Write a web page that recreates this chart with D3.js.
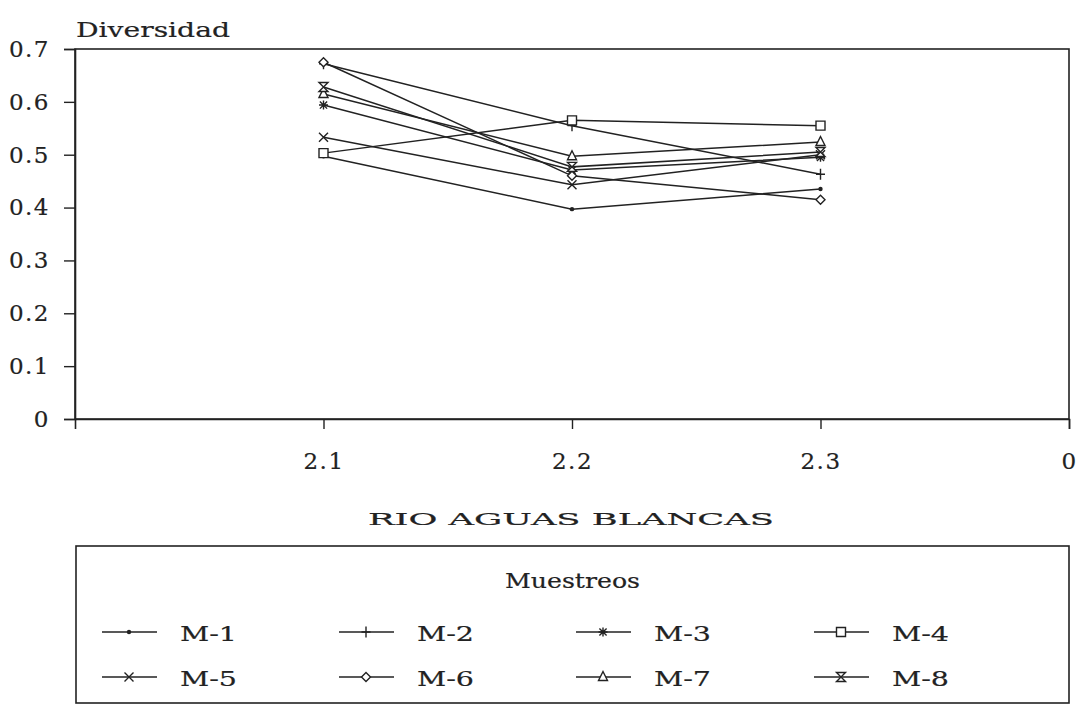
<!DOCTYPE html>
<html>
<head>
<meta charset="utf-8">
<script src="https://cdn.jsdelivr.net/npm/d3@7"></script>
<style>
  body { margin: 0; background: #fff; }
  svg text { font-family: "DejaVu Serif", "Liberation Serif", serif; fill: #222; stroke: #222; stroke-width: 0.2px; }
</style>
</head>
<body>
<svg id="chart" width="1079" height="720"></svg>
<script>
// Diversity per sampling, Rio Aguas Blancas stations
const stations = [1, 2, 3];
const tickValues = [1, 2, 3, 4];
const tickLabels = ['2.1', '2.2', '2.3', '0'];
const yTicks = [0, 0.1, 0.2, 0.3, 0.4, 0.5, 0.6, 0.7];

const seriesNames = ['M-1', 'M-2', 'M-3', 'M-4', 'M-5', 'M-6', 'M-7', 'M-8'];
const seriesMarkers = ['dot', 'plus', 'star', 'square', 'cross', 'diamond', 'triangle', 'hourglass'];
const m1 = [0.497, 0.397, 0.435];
const m2 = [0.672, 0.555, 0.463];
const m3 = [0.594, 0.471, 0.495];
const m4 = [0.503, 0.565, 0.555];
const m5 = [0.533, 0.443, 0.500];
const m6 = [0.675, 0.460, 0.415];
const m7 = [0.615, 0.497, 0.524];
const m8 = [0.628, 0.477, 0.505];
const seriesValues = [m1, m2, m3, m4, m5, m6, m7, m8];

const ink = '#222';
const svg = d3.select('#chart');
const margin = { top: 49, right: 10, bottom: 301, left: 75 };
const width = 1079, height = 720;

const x = d3.scaleLinear().domain([0, 4]).range([margin.left, width - margin.right]);
const y = d3.scaleLinear().domain([0, 0.7]).range([height - margin.bottom, margin.top]);

// draw a marker shape centred at 0,0
function drawMarker(g, type) {
  const s = 4.5;
  const path = (d, fill) => g.append('path').attr('d', d)
    .attr('stroke', ink).attr('stroke-width', 1.4).attr('fill', fill || 'none');
  if (type === 'dot') g.append('circle').attr('r', 2.2).attr('fill', ink);
  if (type === 'plus') path(`M${-s},0H${s}M0,${-s - 1}V${s + 1}`);
  if (type === 'star') path(`M${-s},0H${s}M0,${-s}V${s}M${-s * 0.8},${-s * 0.8}L${s * 0.8},${s * 0.8}M${-s * 0.8},${s * 0.8}L${s * 0.8},${-s * 0.8}`);
  if (type === 'square') path(`M${-s},${-s}H${s}V${s}H${-s}Z`, '#fff');
  if (type === 'cross') path(`M${-s},${-s}L${s},${s}M${-s},${s}L${s},${-s}`);
  if (type === 'diamond') path(`M0,${-s}L${s},0L0,${s}L${-s},0Z`, '#fff');
  if (type === 'triangle') path(`M0,${-s - 1}L${s},${s - 1}H${-s}Z`, '#fff');
  if (type === 'hourglass') path(`M${-s},${-s}H${s}L${-s},${s}H${s}Z`, '#fff');
}

// wide text, stretched to the width seen in the scan
function wideText(parent, x0, y0, size, len, str) {
  return parent.append('text').attr('x', x0).attr('y', y0).attr('font-size', size)
    .attr('textLength', len).attr('lengthAdjust', 'spacingAndGlyphs').text(str);
}

// frame
svg.append('rect')
  .attr('x', margin.left).attr('y', margin.top)
  .attr('width', width - margin.right - margin.left)
  .attr('height', y(0) - margin.top)
  .attr('fill', 'none').attr('stroke', ink).attr('stroke-width', 1.6);

// axes
const yAxis = svg.append('g')
  .attr('transform', `translate(${margin.left},0)`)
  .call(d3.axisLeft(y).tickValues(yTicks).tickSize(11).tickPadding(14)
    .tickFormat(d => d === 0 ? '0' : d3.format('.1f')(d)));
const xAxis = svg.append('g')
  .attr('transform', `translate(0,${y(0)})`)
  .call(d3.axisBottom(x).tickValues(tickValues).tickSize(10).tickPadding(24)
    .tickFormat((d, i) => tickLabels[i]));
[xAxis, yAxis].forEach(a => {
  a.select('.domain').attr('stroke', ink).attr('stroke-width', 1.6);
  a.selectAll('.tick line').attr('stroke', ink).attr('stroke-width', 1.4);
  a.selectAll('.tick text').attr('font-size', 23).attr('fill', ink)
    .style('letter-spacing', '1.5px')
    .style('font-family', '"DejaVu Serif", serif');
});

wideText(svg, 76, 37, 21, 154, 'Diversidad');
wideText(svg, 368, 525, 17, 406, 'RIO AGUAS BLANCAS');

// series lines
const line = d3.line().x((d, i) => x(stations[i])).y(d => y(d));
seriesValues.forEach(vals => {
  svg.append('path').datum(vals).attr('d', line)
    .attr('fill', 'none').attr('stroke', ink).attr('stroke-width', 1.5);
});
seriesValues.forEach((vals, k) => {
  vals.forEach((v, i) => {
    const g = svg.append('g').attr('transform', `translate(${x(stations[i])},${y(v)})`);
    drawMarker(g, seriesMarkers[k]);
  });
});

// legend
const legend = svg.append('g');
legend.append('rect').attr('x', 76).attr('y', 546).attr('width', 993).attr('height', 157)
  .attr('fill', 'none').attr('stroke', ink).attr('stroke-width', 1.6);
wideText(legend, 505, 588, 21, 135, 'Muestreos');
const colX = [102, 339, 576, 814];
const rowY = [632, 677];
seriesNames.forEach((name, k) => {
  const cx = colX[k % 4], cy = rowY[Math.floor(k / 4)];
  legend.append('line').attr('x1', cx).attr('x2', cx + 55).attr('y1', cy).attr('y2', cy)
    .attr('stroke', ink).attr('stroke-width', 1.4);
  drawMarker(legend.append('g').attr('transform', `translate(${cx + 27},${cy})`), seriesMarkers[k]);
  wideText(legend, cx + 78, cy + 9, 21, 57, name);
});
</script>
</body>
</html>
